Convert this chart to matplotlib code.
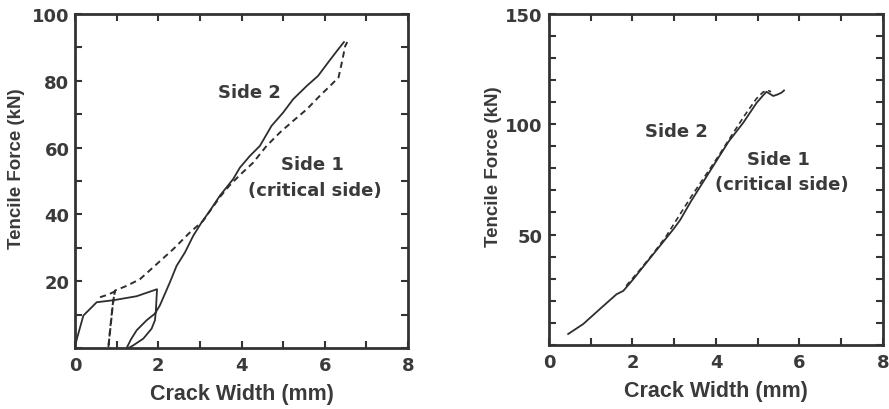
import matplotlib.pyplot as plt
from matplotlib.ticker import MultipleLocator

# left panel: cyclic test, crack width (mm) vs tencile force (kN)
side2_a_x = [0.0, 0.05, 0.2, 0.52, 0.92, 1.48, 1.97, 1.94, 1.92, 1.84, 1.64, 1.4, 1.3,
             1.24, 1.34, 1.48, 1.72, 1.92, 2.04, 2.28, 2.44, 2.64, 2.84, 3.04, 3.24,
             3.48, 3.8, 3.96, 4.2, 4.44, 4.72, 5.0, 5.24, 5.57, 5.84, 6.08, 6.32, 6.46]
side2_a_y = [0.5, 3.0, 9.7, 13.7, 14.3, 15.5, 17.6, 10.8, 8.3, 5.8, 2.8, 0.8, 0.1,
             0.0, 2.5, 5.3, 8.3, 10.3, 12.8, 19.7, 24.6, 28.6, 33.6, 37.6, 41.1,
             45.6, 50.6, 54.0, 57.5, 60.5, 66.5, 70.5, 74.5, 78.5, 81.5, 85.5, 89.4, 91.6]

side1_a_x = [0.6, 0.8, 0.95, 0.9, 0.86, 0.82, 0.8, 0.83, 0.87, 0.91, 0.96, 1.24, 1.56,
             1.96, 2.36, 2.76, 3.08, 3.24, 3.5, 3.7, 3.96, 4.28, 4.6, 4.92, 5.24, 5.57,
             5.88, 6.13, 6.33, 6.41, 6.49, 6.54]
side1_a_y = [15.2, 16.0, 16.9, 12.0, 7.0, 2.5, 0.0, 4.0, 9.0, 13.5, 17.2, 18.6, 20.6,
             25.1, 29.6, 34.6, 38.1, 41.0, 45.5, 48.5, 51.8, 55.5, 60.5, 64.5, 68.0, 71.5,
             75.5, 78.5, 81.0, 85.5, 90.4, 91.6]

# right panel: monotonic test
side2_b_x = [0.46, 0.82, 1.22, 1.62, 1.78, 2.02, 2.34, 2.66, 2.98, 3.14, 3.4, 3.7,
             4.0, 4.3, 4.65, 4.97, 5.13, 5.21, 5.28, 5.37, 5.48, 5.57, 5.63]
side2_b_y = [5.0, 9.5, 16.3, 23.0, 24.5, 29.8, 37.4, 44.9, 52.4, 56.5, 65.0, 74.0,
             83.0, 92.0, 100.5, 109.5, 113.0, 114.6, 113.8, 112.7, 113.4, 114.2, 115.2]

side1_b_x = [1.85, 2.2, 2.5, 2.8, 3.1, 3.42, 3.74, 4.06, 4.38, 4.69, 4.97, 5.13, 5.25, 5.32]
side1_b_y = [26.8, 34.5, 41.5, 49.0, 58.0, 67.5, 76.5, 85.5, 95.0, 104.0, 111.5, 114.5, 115.2, 114.6]

TXT = '#3a3a3a'
LINE = '#2e2e2e'
WIDE = ['DejaVu Sans']
plt.rcParams['font.family'] = ['Liberation Sans', 'DejaVu Sans']
plt.rcParams['font.weight'] = 'bold'

fig = plt.figure(figsize=(8.89, 4.10), dpi=100)
ax1 = fig.add_axes([0.0844, 0.1488, 0.3746, 0.8146])
ax2 = fig.add_axes([0.6175, 0.1560, 0.3757, 0.8085])


def style(ax, ymax, ymajor, ypad, lab_x):
    ax.set_xlim(0, 8)
    ax.set_ylim(0, ymax)
    ax.xaxis.set_major_locator(MultipleLocator(2))
    ax.xaxis.set_minor_locator(MultipleLocator(1))
    ax.yaxis.set_major_locator(MultipleLocator(ymajor))
    ax.yaxis.set_minor_locator(MultipleLocator(10))
    ax.tick_params(which='both', direction='in', top=True, right=True,
                   length=5, width=1.5, colors='#333333', labelcolor=TXT)
    ax.tick_params(axis='x', pad=6)
    ax.tick_params(axis='y', pad=ypad)
    for s in ax.spines.values():
        s.set_linewidth(2)
        s.set_color('#333333')
    ax.set_xlabel('Crack Width (mm)', fontsize=15.5, color=TXT, fontweight='bold')
    ax.set_ylabel('Tencile Force (kN)', fontsize=13.5, color=TXT, fontweight='bold')
    ax.xaxis.set_label_coords(0.5, -0.105)
    ax.yaxis.set_label_coords(lab_x, 0.54)


style(ax1, 100, 20, 4, -0.15)
style(ax2, 150, 50, 4.5, -0.142)
ax1.set_yticks([20, 40, 60, 80, 100])
ax2.set_yticks([50, 100, 150])
for ax in (ax1, ax2):
    for lab in ax.get_xticklabels() + ax.get_yticklabels():
        lab.set_family(WIDE)
        lab.set_fontweight('bold')
        lab.set_fontsize(13)

ax1.plot(side2_a_x, side2_a_y, color=LINE, lw=1.3)
ax1.plot(side1_a_x, side1_a_y, color=LINE, lw=1.4, dashes=(3.2, 2.2))
ax2.plot(side2_b_x, side2_b_y, color=LINE, lw=1.3)
ax2.plot(side1_b_x, side1_b_y, color=LINE, lw=1.2, dashes=(3.2, 2.2))

kw = dict(fontsize=13, color=TXT, fontweight='bold', ha='center', va='center',
          family=WIDE)
ax1.text(4.2, 76.6, 'Side 2', **kw)
ax1.text(5.7, 55.0, 'Side 1', **kw)
ax1.text(5.77, 47.3, '(critical side)', **kw)
ax2.text(3.06, 96.8, 'Side 2', **kw)
ax2.text(5.49, 84.0, 'Side 1', **kw)
ax2.text(5.57, 72.7, '(critical side)', **kw)

fig.savefig('out.png', dpi=100)
